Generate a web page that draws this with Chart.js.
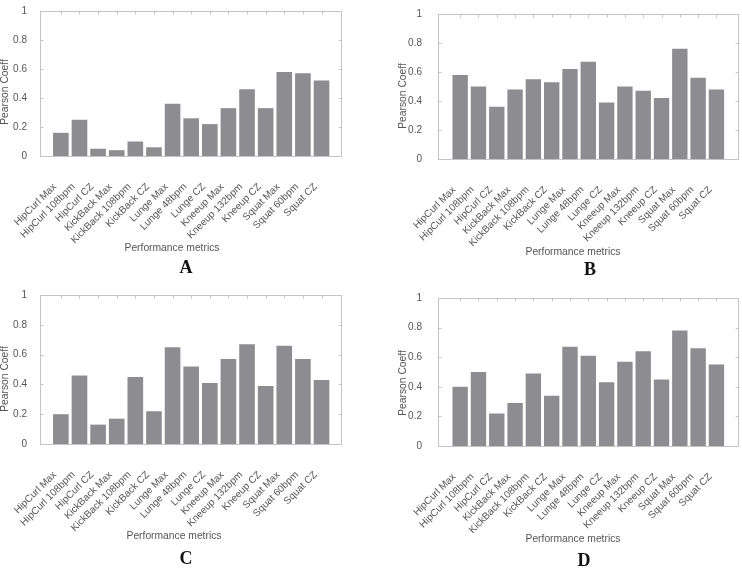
<!DOCTYPE html>
<html>
<head>
<meta charset="utf-8">
<script src="https://cdn.jsdelivr.net/npm/chart.js@4.4.1/dist/chart.umd.min.js"></script>
<style>
  body { margin: 0; background: #fff; width: 742px; height: 568px; position: relative; overflow: hidden; }
  canvas { position: absolute; }
</style>
</head>
<body>
<canvas id="chartA" width="371" height="284" style="left:0;top:0"></canvas>
<canvas id="chartB" width="371" height="284" style="left:371px;top:0"></canvas>
<canvas id="chartC" width="371" height="284" style="left:0;top:284px"></canvas>
<canvas id="chartD" width="371" height="284" style="left:371px;top:284px"></canvas>
<script>
const metrics = ['HipCurl Max', 'HipCurl 108bpm', 'HipCurl CZ', 'KickBack Max', 'KickBack 108bpm', 'KickBack CZ',
  'Lunge Max', 'Lunge 48bpm', 'Lunge CZ', 'Kneeup Max', 'Kneeup 132bpm', 'Kneeup CZ', 'Squat Max', 'Squat 60bpm', 'Squat CZ'];

const coeffA = [0.16, 0.25, 0.05, 0.04, 0.10, 0.06, 0.36, 0.26, 0.22, 0.33, 0.46, 0.33, 0.58, 0.57, 0.52];
const coeffB = [0.58, 0.50, 0.36, 0.48, 0.55, 0.53, 0.62, 0.67, 0.39, 0.50, 0.47, 0.42, 0.76, 0.56, 0.48];
const coeffC = [0.20, 0.46, 0.13, 0.17, 0.45, 0.22, 0.65, 0.52, 0.41, 0.57, 0.67, 0.39, 0.66, 0.57, 0.43];
const coeffD = [0.40, 0.50, 0.22, 0.29, 0.49, 0.34, 0.67, 0.61, 0.43, 0.57, 0.64, 0.45, 0.78, 0.66, 0.55];

const yTicks = [0, 0.2, 0.4, 0.6, 0.8, 1];
const yTickLabels = ['0', '0.2', '0.4', '0.6', '0.8', '1'];

Chart.defaults.font.family = '"Liberation Sans", Arial, sans-serif';
Chart.defaults.color = '#555';

// frame box with small inward ticks, plus the axis titles and panel letter
const framePlugin = {
  id: 'frame',
  beforeDatasetsDraw(chart) {
    const { ctx, chartArea: a, scales: { x, y } } = chart;
    const l = Math.round(a.left) + 0.5, r = Math.round(a.right) - 0.5;
    const t = Math.round(a.top) + 0.5, b = Math.round(a.bottom) + 0.5;
    ctx.save();
    ctx.strokeStyle = '#c4c4c4';
    ctx.lineWidth = 1;
    ctx.strokeRect(l, t, r - l, b - t);
    ctx.beginPath();
    metrics.forEach((m, i) => {
      const px = Math.round(x.getPixelForValue(i)) + 0.5;
      ctx.moveTo(px, t); ctx.lineTo(px, t + 3);
      ctx.moveTo(px, b); ctx.lineTo(px, b - 3);
    });
    yTicks.forEach(v => {
      const py = Math.round(y.getPixelForValue(v)) + 0.5;
      ctx.moveTo(l, py); ctx.lineTo(l + 3, py);
      ctx.moveTo(r, py); ctx.lineTo(r - 3, py);
    });
    ctx.stroke();
    ctx.restore();
  },
  afterDraw(chart, args, opts) {
    const ctx = chart.ctx;
    ctx.save();
    ctx.fillStyle = '#555';
    ctx.font = '10.3px "Liberation Sans", Arial, sans-serif';
    ctx.textAlign = 'center';
    ctx.textBaseline = 'middle';
    ctx.fillText('Performance metrics', opts.xTitle[0], opts.xTitle[1]);
    ctx.save();
    ctx.translate(opts.yTitle[0], opts.yTitle[1]);
    ctx.rotate(-Math.PI / 2);
    ctx.fillText('Pearson Coeff', 0, 0);
    ctx.restore();
    ctx.fillStyle = '#111';
    ctx.font = 'bold 18px "Liberation Serif", "Times New Roman", serif';
    ctx.fillText(opts.letter, opts.letterPos[0], opts.letterPos[1]);
    ctx.restore();
  }
};

function makePanel(p) {
  const canvas = document.getElementById(p.id);
  const W = canvas.width, H = canvas.height;
  return new Chart(canvas, {
    type: 'bar',
    data: {
      datasets: [{
        data: p.values.map((v, i) => ({ x: i, y: v })),
        backgroundColor: '#8d8d91',
        borderWidth: 0,
        barPercentage: 0.84,
        categoryPercentage: 1
      }]
    },
    options: {
      responsive: false,
      animation: false,
      devicePixelRatio: 1,
      layout: { padding: { left: 0, top: p.area.t, right: W - p.area.r, bottom: 0 } },
      plugins: {
        legend: { display: false },
        tooltip: { enabled: false },
        frame: { letter: p.letter, letterPos: p.letterPos, xTitle: p.xTitle, yTitle: p.yTitle }
      },
      scales: {
        x: {
          type: 'linear',
          offset: false,
          min: p.xMin,
          max: p.xMax,
          grid: { display: false },
          border: { display: false },
          afterBuildTicks: s => { s.ticks = metrics.map((m, i) => ({ value: i })); },
          afterFit: s => { s.height = H - p.area.b; },
          ticks: {
            autoSkip: false,
            minRotation: 45,
            maxRotation: 45,
            padding: 17,
            labelOffset: -6,
            font: { size: 10 },
            callback: v => metrics[v]
          }
        },
        y: {
          min: 0,
          max: 1,
          grid: { display: false },
          border: { display: false },
          afterBuildTicks: s => { s.ticks = yTicks.map(v => ({ value: v })); },
          afterFit: s => { s.width = p.area.l; },
          ticks: {
            padding: p.tickPad,
            font: { size: 10 },
            callback: (v, i) => yTickLabels[i]
          }
        }
      }
    },
    plugins: [framePlugin]
  });
}

makePanel({ id: 'chartA', values: coeffA, letter: 'A', area: { l: 40, r: 342, t: 7, b: 156 }, xMin: -1.12, xMax: 15.1,
  tickPad: 5, yTitle: [5, 92], xTitle: [172, 248], letterPos: [186, 268] });
makePanel({ id: 'chartB', values: coeffB, letter: 'B', area: { l: 67, r: 370, t: 9, b: 159 }, xMin: -1.21, xMax: 15.24,
  tickPad: 8, yTitle: [32, 96], xTitle: [202, 252], letterPos: [219, 270] });
makePanel({ id: 'chartC', values: coeffC, letter: 'C', area: { l: 40, r: 342, t: 9, b: 160 }, xMin: -1.12, xMax: 15.1,
  tickPad: 5, yTitle: [5, 95], xTitle: [174, 252], letterPos: [186, 275] });
makePanel({ id: 'chartD', values: coeffD, letter: 'D', area: { l: 67, r: 370, t: 13, b: 162 }, xMin: -1.21, xMax: 15.24,
  tickPad: 8, yTitle: [32, 99], xTitle: [202, 255], letterPos: [213, 277] });
</script>
</body>
</html>
